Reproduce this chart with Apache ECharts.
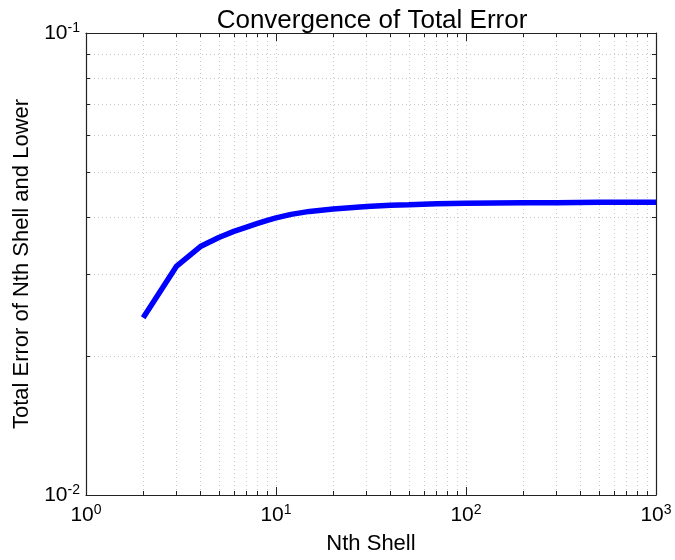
<!DOCTYPE html>
<html>
<head>
<meta charset="utf-8">
<script src="https://cdn.jsdelivr.net/npm/echarts@6/dist/echarts.min.js"></script>
<style>
  html, body { margin: 0; padding: 0; background: #fff; }
  #chart { width: 675px; height: 560px; }
</style>
</head>
<body>
<div id="chart"></div>
<script>
// values
var shells = [2, 3, 4, 5, 6, 7, 8, 9, 10, 12, 15, 20, 30, 40, 50, 70, 100, 200, 300, 500, 1000];
var totalError = [0.0242, 0.0313, 0.0345, 0.0361, 0.0372, 0.0380, 0.0387, 0.0393, 0.0398, 0.0405,
                  0.0411, 0.0416, 0.0421, 0.0424, 0.0425, 0.0427, 0.0428, 0.0429, 0.0429, 0.0430, 0.0430];

var titleText = 'Convergence of Total Error';
var xName = 'Nth Shell';
var yName = 'Total Error of Nth Shell and Lower';

var font = 'Liberation Sans, Arial, sans-serif';

function powLabel(v) {
    var e = Math.round(Math.log(v) / Math.LN10);
    return '{b|10}{s|' + e + '}';
}

var labelRich = {
    b: { fontSize: 21, fontFamily: font, color: '#000' },
    s: { fontSize: 14, fontFamily: font, color: '#000', verticalAlign: 'top', padding: [0, 0, 10, 0] }
};

var gridLine = { show: true, lineStyle: { color: '#c8c8c8', type: [1, 3], width: 1 } };
var frameLine = { show: true, lineStyle: { color: '#222', width: 1.2 } };

var chart = echarts.init(document.getElementById('chart'));

function xAxisOpt(pos, main) {
    return {
        type: 'log', logBase: 10, min: 1, max: 1000, position: pos,
        name: main ? xName : '', nameLocation: 'middle', nameGap: 38,
        nameTextStyle: { fontSize: 22, fontFamily: font, color: '#000' },
        axisLine: frameLine,
        axisTick: { show: true, inside: true, length: 8, lineStyle: { color: '#222' } },
        minorTick: { show: true, splitNumber: 9, length: 4, lineStyle: { color: '#222' } },
        axisLabel: { show: main, margin: 8, formatter: powLabel, rich: labelRich },
        splitLine: main ? gridLine : { show: false },
        minorSplitLine: main ? gridLine : { show: false }
    };
}
function yAxisOpt(pos, main) {
    return {
        type: 'log', logBase: 10, min: 0.01, max: 0.1, position: pos,
        name: main ? yName : '', nameLocation: 'middle', nameGap: 52,
        nameTextStyle: { fontSize: 22, fontFamily: font, color: '#000' },
        axisLine: frameLine,
        axisTick: { show: true, inside: true, length: 8, lineStyle: { color: '#222' } },
        minorTick: { show: true, splitNumber: 9, length: 4, lineStyle: { color: '#222' } },
        axisLabel: { show: main, margin: 6, formatter: powLabel, rich: labelRich },
        splitLine: main ? gridLine : { show: false },
        minorSplitLine: main ? gridLine : { show: false }
    };
}

var option = {
    animation: false,
    backgroundColor: '#fff',
    title: {
        text: titleText, left: 367, top: 3, textAlign: 'center',
        textStyle: { fontSize: 26, fontWeight: 'normal', fontFamily: font, color: '#000' }
    },
    grid: { left: 86, right: 19, top: 33, bottom: 57 },
    xAxis: [xAxisOpt('bottom', true), xAxisOpt('top', false)],
    yAxis: [yAxisOpt('left', true), yAxisOpt('right', false)],
    series: [{
        type: 'line',
        data: shells.map(function (s, i) { return [s, totalError[i]]; }),
        showSymbol: false,
        lineStyle: { color: '#0000ff', width: 5.5 },
        z: 5
    }]
};
chart.setOption(option);
</script>
</body>
</html>
